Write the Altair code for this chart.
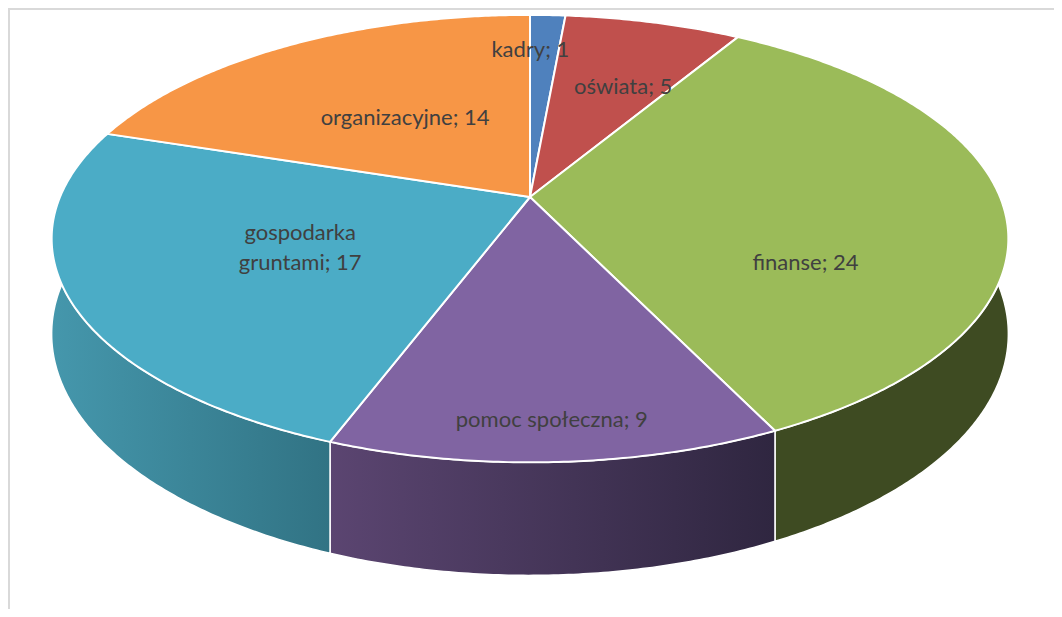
import math
import altair as alt
import pandas as pd

# ---- data ----
categories = ["kadry", "oświata", "finanse", "pomoc społeczna", "gospodarka gruntami", "organizacyjne"]
values = [1, 5, 24, 9, 17, 14]
label_texts = ["kadry; 1", "oświata; 5", "finanse; 24", "pomoc społeczna; 9",
               "gospodarka\ngruntami; 17", "organizacyjne; 14"]

# ---- styles ----
top_colors = ["#4F81BD", "#C0504D", "#9BBB59", "#8064A2", "#4BACC6", "#F79646"]
side_colors = [
    ["#2f4d72", "#2f4d72"],
    ["#73302e", "#73302e"],
    ["#3e4b22", "#3e4b22"],
    ["#5b4571", "#2f2640"],
    ["#4597ac", "#317384"],
    ["#94582a", "#94582a"],
]
# label placement: radial fraction and nudges (layout only)
label_r = [0.78, 0.62, 0.584, 0.867, 0.52, 0.485]
label_dx = [-14, 12, 0, 0, 0, 0]
label_dy = [0, 5, 60, 0, -15, 0]

# ---- layout / 3D geometry ----
W, H = 1046, 601
OFF = 8
CX, CY = 530 - OFF, 197 - OFF
A, B, K = 470, 216, 0.186
DEPTH = 92
STEP = 0.5


def proj(theta_deg, r=1.0):
    t = math.radians(theta_deg)
    den = 1 + K * r * math.cos(t)
    return CX + A * r * math.sin(t) / den, CY - B * r * math.cos(t) / den, den


total = sum(values)
starts, ends = [], []
acc = 0
for v in values:
    starts.append(360.0 * acc / total)
    acc += v
    ends.append(360.0 * acc / total)


def arc_thetas(a, b):
    n = max(2, int(math.ceil((b - a) / STEP)))
    return [a + (b - a) * i / n for i in range(n + 1)]


top_rows = []
side_dfs = []
for s, cat in enumerate(categories):
    a, b = starts[s], ends[s]
    th = arc_thetas(a, b)
    # top face
    i = 0
    top_rows.append({"slice": cat, "i": i, "x": CX, "y": CY, "fill": top_colors[s]})
    for t in th:
        i += 1
        x, y, _ = proj(t)
        top_rows.append({"slice": cat, "i": i, "x": x, "y": y, "fill": top_colors[s]})
    i += 1
    top_rows.append({"slice": cat, "i": i, "x": CX, "y": CY, "fill": top_colors[s]})
    # side band
    rows = []
    j = 0
    for t in th:
        x, y, _ = proj(t)
        rows.append({"i": j, "x": x, "y": y})
        j += 1
    for t in reversed(th):
        x, y, den = proj(t)
        rows.append({"i": j, "x": x, "y": y + DEPTH / den})
        j += 1
    x, y, _ = proj(th[0])
    rows.append({"i": j, "x": x, "y": y})
    side_dfs.append(pd.DataFrame(rows))

top_df = pd.DataFrame(top_rows)

lab_rows = []
for s, cat in enumerate(categories):
    mid = (starts[s] + ends[s]) / 2
    x, y, _ = proj(mid, label_r[s])
    lab_rows.append({"label": label_texts[s], "x": x + label_dx[s], "y": y + label_dy[s]})
lab_df = pd.DataFrame(lab_rows)

xenc = alt.X("x:Q", scale=alt.Scale(domain=[0, W], nice=False, zero=False), axis=None)
yenc = alt.Y("y:Q", scale=alt.Scale(domain=[H, 0], nice=False, zero=False), axis=None)

layers = []
for s in range(len(categories)):
    c0, c1 = side_colors[s]
    fill = alt.Gradient(
        gradient="linear",
        stops=[alt.GradientStop(color=c0, offset=0), alt.GradientStop(color=c1, offset=1)],
        x1=0, x2=1, y1=0, y2=0,
    )
    layers.append(
        alt.Chart(side_dfs[s]).mark_line(fill=fill, stroke="white", strokeWidth=1.5,
                                         strokeJoin="round").encode(
            x=xenc, y=yenc, order=alt.Order("i:Q")
        )
    )

layers.append(
    alt.Chart(top_df).mark_line(stroke="white", strokeWidth=2, strokeJoin="round").encode(
        x=xenc, y=yenc, order=alt.Order("i:Q"), detail="slice:N",
        fill=alt.Fill("fill:N", scale=None),
    )
)

layers.append(
    alt.Chart(lab_df).mark_text(font="Lato", fontSize=22, color="#404040", lineBreak="\n",
                                lineHeight=30, baseline="middle", align="center").encode(
        x=xenc, y=yenc, text="label:N"
    )
)

border = alt.Chart(pd.DataFrame({"k": [0]}))
layers.append(border.mark_rule(color="#d9d9d9", strokeWidth=2).encode(
    x=alt.value(0), x2=alt.value(W), y=alt.value(1)))
layers.append(border.mark_rule(color="#d9d9d9", strokeWidth=2).encode(
    x=alt.value(1), y=alt.value(0), y2=alt.value(H)))

chart = alt.layer(*layers).properties(
    width=W, height=H, padding=0,
    autosize=alt.AutoSizeParams(type="none"),
).configure_view(stroke=None)

chart.save("out.html", embed_options={"renderer": "svg", "actions": False})
